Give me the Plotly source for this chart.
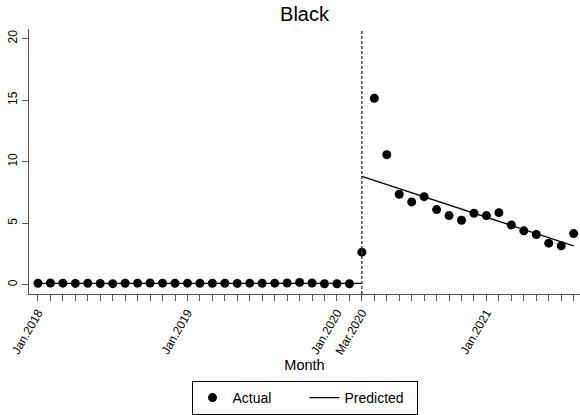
import plotly.graph_objects as go

# ---------------- data ----------------
MONTH_NAMES = ["Jan", "Feb", "Mar", "Apr", "May", "Jun",
               "Jul", "Aug", "Sep", "Oct", "Nov", "Dec"]
months = [f"{m}.{y}" for y in (2018, 2019, 2020, 2021) for m in MONTH_NAMES][:44]  # Jan.2018 .. Aug.2021

labelled_months = ["Jan.2018", "Jan.2019", "Jan.2020", "Mar.2020", "Jan.2021"]
INTERVENTION = "Mar.2020"

actual = [
    0.12, 0.14, 0.13, 0.11, 0.12, 0.10, 0.09, 0.12, 0.13, 0.14, 0.13, 0.12,   # 2018
    0.13, 0.12, 0.12, 0.12, 0.11, 0.13, 0.12, 0.13, 0.14, 0.19, 0.14, 0.08,   # 2019
    0.08, 0.08, 2.65, 15.15, 10.57, 7.35, 6.73, 7.16, 6.11, 5.62, 5.24, 5.81, # 2020
    5.62, 5.86, 4.86, 4.38, 4.08, 3.38, 3.16, 4.16,                           # 2021
]

# predicted (segmented regression), pre-period: Jan.2018 .. Mar.2020
predicted_pre = [0.12] * 27
# predicted post-period: Mar.2020 .. Aug.2021
predicted_post = [8.81, 8.48, 8.15, 7.81, 7.48, 7.15, 6.82, 6.49, 6.15,
                  5.82, 5.49, 5.16, 4.83, 4.49, 4.16, 3.83, 3.50, 3.16]

y_ticks = [0, 5, 10, 15, 20]
grid_ticks = [0, 5, 10, 15]

# ---------------- figure ----------------
FONT = "Liberation Sans, Arial, Helvetica, sans-serif"
i_int = months.index(INTERVENTION)

fig = go.Figure()

fig.add_trace(go.Scatter(
    x=months, y=actual, mode="markers", name="Actual",
    marker=dict(color="black", size=9, line=dict(width=0)),
    xaxis="x", yaxis="y2",
))
fig.add_trace(go.Scatter(
    x=months[:i_int + 1], y=predicted_pre, mode="lines", name="Predicted",
    line=dict(color="black", width=1.3), legendgroup="pred",
    xaxis="x", yaxis="y2",
))
fig.add_trace(go.Scatter(
    x=months[i_int:], y=predicted_post, mode="lines", name="Predicted",
    line=dict(color="black", width=1.3), legendgroup="pred", showlegend=False,
    xaxis="x", yaxis="y2",
))

fig.add_shape(type="line", xref="x", yref="paper", x0=i_int, x1=i_int, y0=0, y1=1,
              line=dict(color="#444444", width=1.5, dash="3px,2px"), layer="above")

yrange = [-0.75, 20.78]
xrange = [-0.72, 43.51]

ticktext = [m if m in labelled_months else "" for m in months]

fig.update_layout(
    width=580, height=415,
    margin=dict(l=29, r=0, t=29, b=120),
    paper_bgcolor="white", plot_bgcolor="white",
    font=dict(family=FONT, color="black", size=12),
    title=dict(text="Black", x=0.5, xref="paper", xanchor="center",
               y=1 - 14 / 415, yref="container", yanchor="middle",
               font=dict(size=20, family=FONT, color="black")),
    showlegend=True,
    legend=dict(orientation="h", x=0.5, xanchor="center", y=-0.33, yanchor="top",
                bordercolor="black", borderwidth=1, bgcolor="white",
                font=dict(size=14, family=FONT), itemwidth=30,
                entrywidth=67, entrywidthmode="pixels",
                traceorder="normal"),
    xaxis=dict(
        type="category", categoryorder="array", categoryarray=months,
        range=xrange, tickmode="array", tickvals=months, ticktext=ticktext,
        tickangle=-60, ticks="outside", ticklen=6, tickcolor="#555555",
        showline=True, linecolor="#555555", linewidth=1,
        showgrid=False, zeroline=False, tickfont=dict(size=12),
        title=dict(text="Month", font=dict(size=14.5), standoff=1),
    ),
    yaxis=dict(
        range=yrange, tickmode="array", tickvals=grid_ticks,
        showticklabels=False, ticks="", showline=False,
        showgrid=True, gridcolor="#dfe9ec", gridwidth=1, zeroline=False,
    ),
    yaxis2=dict(
        overlaying="y", side="left", range=yrange,
        tickmode="array", tickvals=y_ticks, tickangle=-90,
        ticks="outside", ticklen=6, tickcolor="#555555",
        showline=True, linecolor="#555555", linewidth=1,
        showgrid=False, zeroline=False, tickfont=dict(size=12),
    ),
)

fig.write_html("out.html")
